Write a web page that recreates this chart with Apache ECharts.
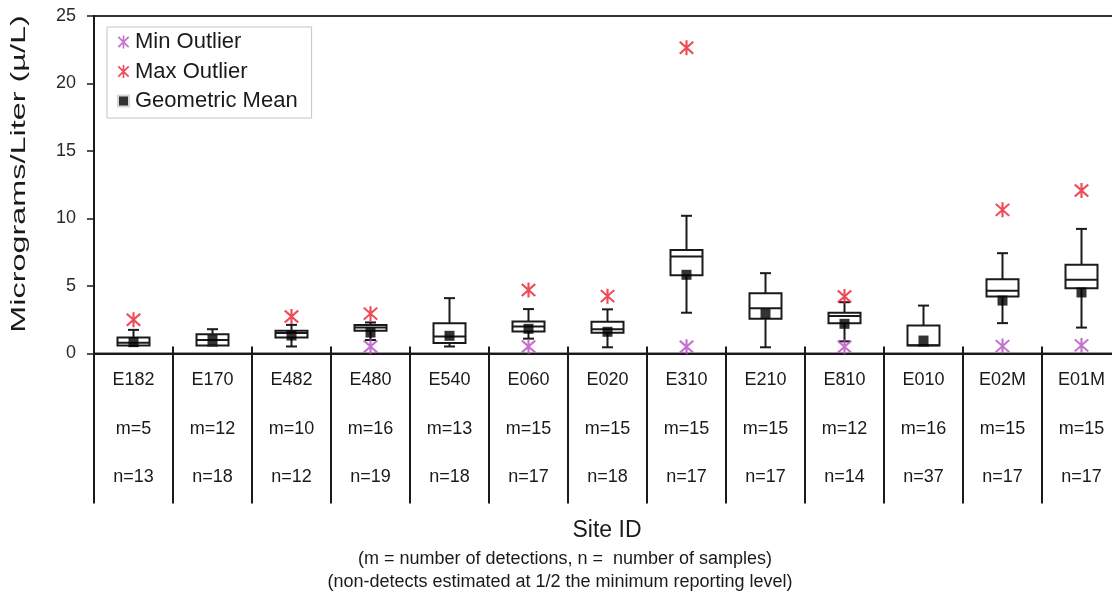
<!DOCTYPE html>
<html>
<head>
<meta charset="utf-8">
<script src="https://cdn.jsdelivr.net/npm/echarts@6/dist/echarts.min.js"></script>
<style>
  html, body { margin: 0; padding: 0; background: #fff; }
  #chart { width: 1112px; height: 595px; }
</style>
</head>
<body>
<div id="chart"></div>
<script>
// Sampling sites along the creek and their sample counts
const sites      = ['E182','E170','E482','E480','E540','E060','E020','E310','E210','E810','E010','E02M','E01M'];
const detections = [5, 12, 10, 16, 13, 15, 15, 15, 15, 12, 16, 15, 15];
const samples    = [13, 18, 12, 19, 18, 17, 18, 17, 17, 14, 37, 17, 17];

// Box-and-whisker statistics (µg/L)
const whiskerLow  = [0.59, 0.59, 0.52, 1.00, 0.52, 1.10, 0.46, 3.02, 0.46, 0.90, 0.59, 2.25, 1.92];
const quartile1   = [0.59, 0.59, 1.18, 1.68, 0.77, 1.63, 1.54, 5.80, 2.57, 2.24, 0.59, 4.22, 4.84];
const medians     = [0.80, 1.00, 1.51, 1.92, 1.26, 2.00, 1.79, 7.18, 3.36, 2.78, 0.62, 4.64, 5.46];
const quartile3   = [1.18, 1.43, 1.68, 2.12, 2.25, 2.37, 2.35, 7.67, 4.46, 3.02, 2.07, 5.50, 6.57];
const whiskerHigh = [1.75, 1.80, 2.12, 2.30, 4.10, 3.29, 3.27, 10.20, 5.95, 3.80, 3.55, 7.43, 9.23];
const geoMean     = [0.84, 1.00, 1.33, 1.55, 1.31, 1.83, 1.61, 5.83, 2.94, 2.20, 0.96, 3.92, 4.52];
const minOutlier  = [null, null, null, 0.52, null, 0.52, null, 0.50, null, 0.50, null, 0.55, 0.60];
const maxOutlier  = [2.50, null, 2.74, 2.95, null, 4.70, 4.25, 22.65, null, 4.22, null, 10.64, 12.07];

// Y axis ticks
const yTicks = [0, 5, 10, 15, 20, 25];

const FONT = '"Liberation Sans", Arial, sans-serif';
const INK = '#1a1a1a';
const STAR = 'path://M8.7,0H11.3V20H8.7Z M2.92,1.08L18.92,17.08L17.08,18.92L1.08,2.92Z M18.92,2.92L2.92,18.92L1.08,17.08L17.08,1.08Z';

const chart = echarts.init(document.getElementById('chart'), null, { renderer: 'canvas' });

function renderBox(params, api) {
  const idx = api.value(0);
  const x = api.coord([idx, 0])[0];
  const yLo = api.coord([idx, api.value(1)])[1];
  const yQ1 = api.coord([idx, api.value(2)])[1];
  const yMd = api.coord([idx, api.value(3)])[1];
  const yQ3 = api.coord([idx, api.value(4)])[1];
  const yHi = api.coord([idx, api.value(5)])[1];
  const bw = 32, cw = 11;
  const ls = { stroke: INK, lineWidth: 2, fill: null };
  return {
    type: 'group',
    children: [
      { type: 'line', shape: { x1: x, y1: yQ3, x2: x, y2: yHi }, style: ls },
      { type: 'line', shape: { x1: x, y1: yQ1, x2: x, y2: yLo }, style: ls },
      { type: 'line', shape: { x1: x - cw / 2, y1: yHi, x2: x + cw / 2, y2: yHi }, style: ls },
      { type: 'line', shape: { x1: x - cw / 2, y1: yLo, x2: x + cw / 2, y2: yLo }, style: ls },
      { type: 'rect', shape: { x: x - bw / 2, y: yQ3, width: bw, height: yQ1 - yQ3 }, style: { stroke: INK, lineWidth: 2, fill: '#fff' } },
      { type: 'line', shape: { x1: x - bw / 2, y1: yMd, x2: x + bw / 2, y2: yMd }, style: ls }
    ]
  };
}

const toPoints = arr => arr.map(v => (v == null ? '-' : v));

chart.setOption({
  animation: false,
  backgroundColor: '#fff',
  grid: {
    left: 94, top: 16, width: 1027, height: 337.5,
    outerBoundsMode: 'none',
    show: true, borderColor: '#333', borderWidth: 2, backgroundColor: 'transparent'
  },
  legend: {
    left: 107, top: 27, orient: 'vertical',
    padding: [4, 14, 6, 8],
    itemGap: 7.5, itemWidth: 13, itemHeight: 13,
    borderColor: '#c4c4c4', borderWidth: 1, backgroundColor: '#fff',
    textStyle: { fontFamily: FONT, fontSize: 22, color: INK },
    data: [
      { name: 'Min Outlier', icon: STAR },
      { name: 'Max Outlier', icon: STAR },
      { name: 'Geometric Mean', icon: 'rect', itemStyle: { color: '#000', borderColor: '#fff', borderWidth: 4 } }
    ]
  },
  xAxis: [
    {
      type: 'category', data: sites, boundaryGap: true,
      axisLine: { lineStyle: { color: INK, width: 2 } },
      axisTick: { show: true, length: 150, inside: false, lineStyle: { color: INK, width: 2 } },
      axisLabel: {
        interval: 0, margin: 2, fontFamily: FONT, fontSize: 18, color: INK, lineHeight: 48.7,
        formatter: (v, i) => v + '\n' + 'm=' + detections[i] + '\n' + 'n=' + samples[i]
      },
      splitLine: { show: false }
    },
    {
      type: 'category', data: sites, boundaryGap: true, position: 'bottom',
      axisLine: { show: false },
      axisTick: { show: true, length: 7, inside: true, lineStyle: { color: INK, width: 2 } },
      axisLabel: { show: false },
      splitLine: { show: false }
    }
  ],
  yAxis: {
    type: 'value', min: yTicks[0], max: yTicks[yTicks.length - 1], interval: 5,
    axisLine: { show: true, lineStyle: { color: INK, width: 2 } },
    axisTick: { show: true, length: 7, lineStyle: { color: INK, width: 1.5 } },
    axisLabel: { margin: 18, fontFamily: FONT, fontSize: 18, color: '#2a2a2a' },
    splitLine: { show: false }
  },
  series: [
    {
      name: 'box', type: 'custom', renderItem: renderBox, z: 2,
      encode: { x: 0, y: [1, 2, 3, 4, 5] },
      data: sites.map((s, i) => [i, whiskerLow[i], quartile1[i], medians[i], quartile3[i], whiskerHigh[i]])
    },
    {
      name: 'Geometric Mean', type: 'scatter', symbol: 'rect', symbolSize: 10, z: 4,
      itemStyle: { color: '#000' },
      data: geoMean
    },
    {
      name: 'Min Outlier', type: 'scatter', symbol: STAR, symbolSize: 15, z: 5,
      itemStyle: { color: '#b84ec0' },
      data: toPoints(minOutlier)
    },
    {
      name: 'Max Outlier', type: 'scatter', symbol: STAR, symbolSize: 15, z: 5,
      itemStyle: { color: '#e8202f' },
      data: toPoints(maxOutlier)
    }
  ],
  graphic: [
    {
      type: 'text', x: 19, y: 174, rotation: Math.PI / 2, scaleX: 1.62,
      style: { text: 'Micrograms/Liter (µ/L)', font: '20px ' + FONT, fill: INK, align: 'center', verticalAlign: 'middle' }
    },
    {
      type: 'text', x: 607, y: 531,
      style: { text: 'Site ID', font: '23px ' + FONT, fill: INK, align: 'center', verticalAlign: 'middle' }
    },
    {
      type: 'text', x: 565, y: 559,
      style: { text: '(m = number of detections, n =  number of samples)', font: '18px ' + FONT, fill: INK, align: 'center', verticalAlign: 'middle' }
    },
    {
      type: 'text', x: 560, y: 582,
      style: { text: '(non-detects estimated at 1/2 the minimum reporting level)', font: '18px ' + FONT, fill: INK, align: 'center', verticalAlign: 'middle' }
    }
  ]
});
</script>
</body>
</html>
